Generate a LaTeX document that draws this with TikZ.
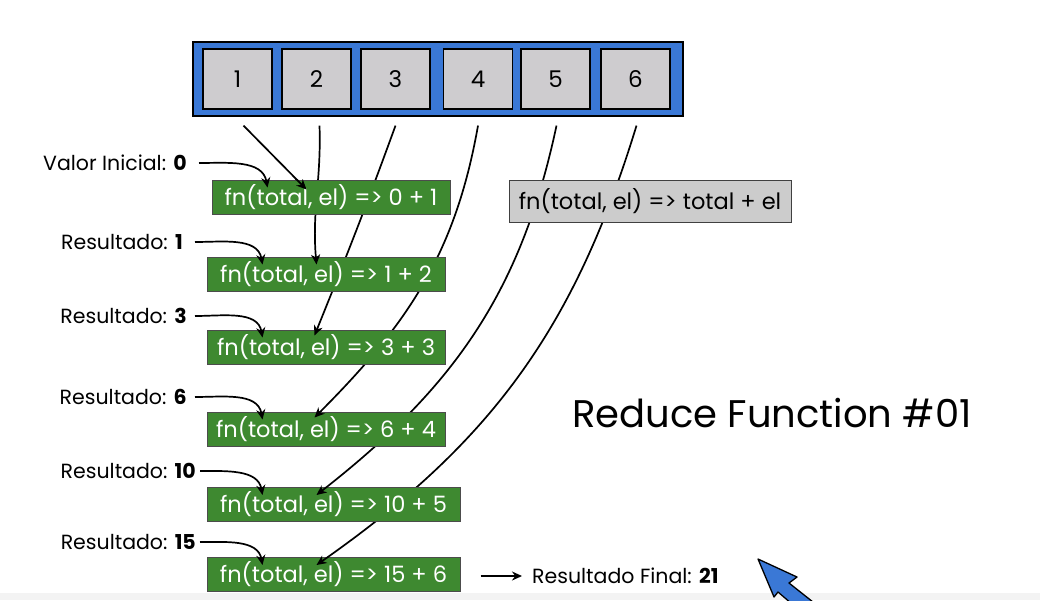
\documentclass[tikz,border=0pt]{standalone}
\usepackage{fontspec}
\setmainfont{Poppins}
\usetikzlibrary{arrows.meta,calc,backgrounds}
\definecolor{arrblue}{RGB}{58,120,214}
\definecolor{cellgray}{RGB}{206,204,207}
\definecolor{fngreen}{RGB}{62,137,48}
\definecolor{fngray}{RGB}{204,204,204}
\definecolor{stripgray}{RGB}{243,243,243}
\tikzset{
  cell/.style={draw=black,line width=1.2pt,fill=cellgray,minimum width=69pt,minimum height=60pt,inner sep=0pt,font=\fontsize{23}{27}\selectfont},
  fnbox/.style={draw=black!70,line width=1pt,fill=fngreen,text=white,minimum height=34pt,inner sep=0pt,font=\fontsize{22.5}{26}\selectfont},
  lbl/.style={anchor=east,inner sep=0pt,font=\fontsize{20.5}{24}\selectfont},
  conn/.style={line width=1.7pt,-{Stealth[length=10pt,width=9pt]}},
}
\newcommand\cA{(s1) -- (t1)}
\newcommand\cB{(s2) to[out=-88,in=95] (t2)}
\newcommand\cC{(s3) to[out=-110,in=68] (t3)}
\newcommand\cD{(s4) to[out=-100,in=45] (t4)}
\newcommand\cE{(s5) to[out=-102,in=38] (t5)}
\newcommand\cF{(s6) to[out=-107,in=35] (t6)}
\begin{document}
\begin{tikzpicture}[x=1pt,y=-1pt]
\useasboundingbox (0,0) rectangle (1040,600);
% array
\node[draw=black,line width=1.2pt,fill=arrblue,minimum width=490pt,minimum height=74pt,inner sep=0pt] (arr) at (438,79) {};
\node[cell] (c1) at (237.5,79) {1};
\node[cell] (c2) at (316.5,79) {2};
\node[cell] (c3) at (395.5,79) {3};
\node[cell] (c4) at (478,79) {4};
\node[cell] (c5) at (555.5,79) {5};
\node[cell] (c6) at (635.5,79) {6};
% function boxes
\node[fnbox,minimum width=238pt] (g1) at (331,197) {fn(total, el) => 0 + 1};
\node[fnbox,minimum width=238pt] (g2) at (326,274) {fn(total, el) => 1 + 2};
\node[fnbox,minimum width=238pt] (g3) at (326,347) {fn(total, el) => 3 + 3};
\node[fnbox,minimum width=238pt] (g4) at (326,429) {fn(total, el) => 6 + 4};
\node[fnbox,minimum width=253pt] (g5) at (333.5,504.5) {fn(total, el) => 10 + 5};
\node[fnbox,minimum width=253pt] (g6) at (333.5,574.5) {fn(total, el) => 15 + 6};
\node[draw=black!75,line width=1pt,fill=fngray,minimum width=282pt,minimum height=42pt,inner sep=0pt,font=\fontsize{22.5}{26}\selectfont] (gen) at (650,201) {fn(total, el) => total + el};
% labels
\node[lbl] (l0) at (187,163) {Valor Inicial: \textbf{0}};
\node[lbl] (l1) at (183,242) {Resultado: \textbf{1}};
\node[lbl] (l2) at (187,316) {Resultado: \textbf{3}};
\node[lbl] (l3) at (187,397) {Resultado: \textbf{6}};
\node[lbl] (l4) at (196,471) {Resultado: \textbf{10}};
\node[lbl] (l5) at (196,542) {Resultado: \textbf{15}};
\node[anchor=west,inner sep=0pt,font=\fontsize{20.5}{24}\selectfont] (fin) at (532,576) {Resultado Final: \textbf{21}};
\node[anchor=west,inner sep=0pt,font=\fontsize{38.5}{44}\selectfont] (title) at (572,413) {Reduce Function \#01};
% coordinates
\coordinate (s1) at ($(c1.south)+(6,16)$);
\coordinate (s2) at ($(c2.south)+(3,16)$);
\coordinate (s3) at ($(c3.south)+(0,16)$);
\coordinate (s4) at ($(c4.south)+(0,16)$);
\coordinate (s5) at ($(c5.south)+(1,16)$);
\coordinate (s6) at ($(c6.south)+(1,16)$);
\coordinate (t1) at ($(g1.north west)+(95,10)$);
\coordinate (t2) at ($(g2.north west)+(110,8)$);
\coordinate (t3) at ($(g3.north west)+(108,6)$);
\coordinate (t4) at ($(g4.north west)+(108,6)$);
\coordinate (t5) at ($(g5.north west)+(110,8)$);
\coordinate (t6) at ($(g6.north west)+(110,8)$);
\begin{pgfonlayer}{background}
\fill[white] (0,0) rectangle (1040,600);
\fill[stripgray] (0,593) rectangle (1040,600);
\draw[conn] \cA; \draw[conn] \cB; \draw[conn] \cC;
\draw[conn] \cD; \draw[conn] \cE; \draw[conn] \cF;
\end{pgfonlayer}
\begin{scope}\clip (g1.north west) rectangle (g1.south east); \draw[conn] \cA; \end{scope}
\begin{scope}\clip (g2.north west) rectangle (g2.south east); \draw[conn] \cB; \end{scope}
\begin{scope}\clip (g3.north west) rectangle (g3.south east); \draw[conn] \cC; \end{scope}
\begin{scope}\clip (g4.north west) rectangle (g4.south east); \draw[conn] \cD; \end{scope}
\begin{scope}\clip (g5.north west) rectangle (g5.south east); \draw[conn] \cE; \end{scope}
\begin{scope}\clip (g6.north west) rectangle (g6.south east); \draw[conn] \cF; \end{scope}
% label arrows
\draw[conn] ($(l0.east)+(12,0)$) to[out=0,in=100] ($(g1.north west)+(56,8)$);
\draw[conn] ($(l1.east)+(12,0)$) to[out=0,in=100] ($(g2.north west)+(56,8)$);
\draw[conn] ($(l2.east)+(8,0)$) to[out=0,in=100] ($(g3.north west)+(56,8)$);
\draw[conn] ($(l3.east)+(8,0)$) to[out=0,in=100] ($(g4.north west)+(56,8)$);
\draw[conn] ($(l4.east)+(4,0)$) to[out=0,in=100] ($(g5.north west)+(56,8)$);
\draw[conn] ($(l5.east)+(4,0)$) to[out=0,in=100] ($(g6.north west)+(56,8)$);
\draw[conn] ($(g6.east)+(20,1.5)$) -- ($(fin.west)+(-10,0)$);
% cursor
\begin{scope}
\clip (0,0) rectangle (1040,600);
\draw[line width=1.3pt,fill=arrblue,line join=round] (758,559) -- (797,577) -- (789,583) -- (818,606) -- (806,616) -- (778,592) -- (774,597) -- cycle;
\end{scope}
\end{tikzpicture}
\end{document}
